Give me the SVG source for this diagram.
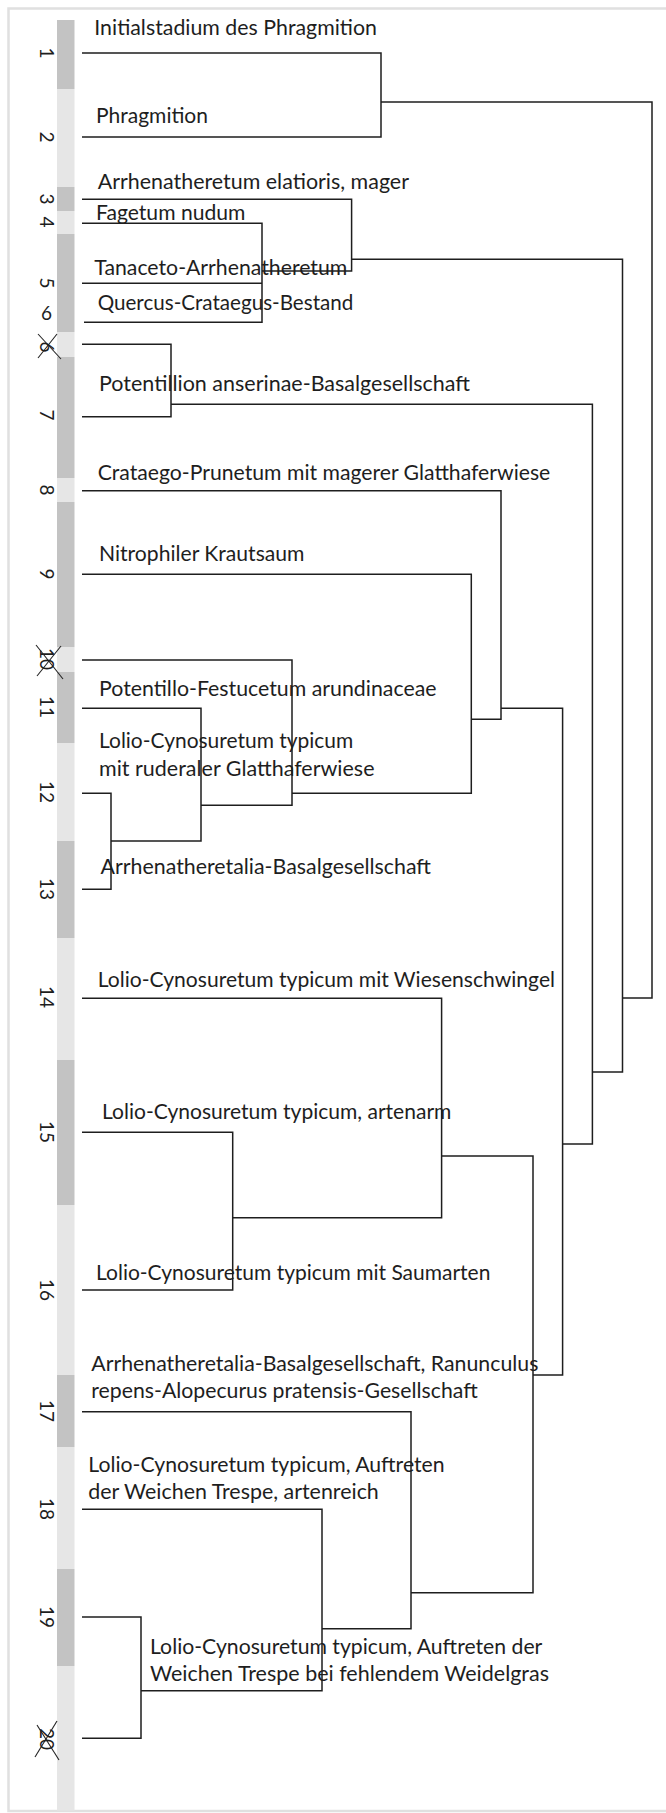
<svg xmlns="http://www.w3.org/2000/svg" width="666" height="1813" viewBox="0 0 666 1813">
<style>
.frame{fill:#ffffff;stroke:#e0e0e0;stroke-width:2.5}
.dk{fill:#c3c3c3}
.lt{fill:#e6e6e6}
.ln{fill:none;stroke:#1e1e1e;stroke-width:1.5}
.lbl{font-family:Lato,"Open Sans","Liberation Sans",sans-serif;font-size:20.5px;fill:#1e1e1e}
.num{font-family:Lato,"Open Sans","Liberation Sans",sans-serif;font-size:19px;fill:#1e1e1e;text-anchor:middle}
.x{stroke:#222;stroke-width:1.1}
</style>
<rect x="0" y="0" width="666" height="1813" fill="#ffffff"/>
<rect class="frame" x="8.5" y="8.5" width="680" height="1802.5"/>
<g id="bar">
<rect class="dk" x="57" y="20" width="17.5" height="69"/>
<rect class="lt" x="57" y="89" width="17.5" height="98"/>
<rect class="dk" x="57" y="187" width="17.5" height="24"/>
<rect class="lt" x="57" y="211" width="17.5" height="23"/>
<rect class="dk" x="57" y="234" width="17.5" height="98"/>
<rect class="lt" x="57" y="332" width="17.5" height="25"/>
<rect class="dk" x="57" y="357" width="17.5" height="121"/>
<rect class="lt" x="57" y="478" width="17.5" height="24"/>
<rect class="dk" x="57" y="502" width="17.5" height="145"/>
<rect class="lt" x="57" y="647" width="17.5" height="25"/>
<rect class="dk" x="57" y="672" width="17.5" height="71"/>
<rect class="lt" x="57" y="743" width="17.5" height="98"/>
<rect class="dk" x="57" y="841" width="17.5" height="97"/>
<rect class="lt" x="57" y="938" width="17.5" height="122"/>
<rect class="dk" x="57" y="1060" width="17.5" height="145"/>
<rect class="lt" x="57" y="1205" width="17.5" height="170"/>
<rect class="dk" x="57" y="1375" width="17.5" height="72"/>
<rect class="lt" x="57" y="1447" width="17.5" height="122"/>
<rect class="dk" x="57" y="1569" width="17.5" height="97"/>
<rect class="lt" x="57" y="1666" width="17.5" height="144.5"/>
</g>
<g id="numbers">
<text class="num" x="40" y="53" transform="rotate(90 40 53)">1</text>
<text class="num" x="40" y="137" transform="rotate(90 40 137)">2</text>
<text class="num" x="40" y="199" transform="rotate(90 40 199)">3</text>
<text class="num" x="40" y="222" transform="rotate(90 40 222)">4</text>
<text class="num" x="40" y="283" transform="rotate(90 40 283)">5</text>
<text class="num" x="46.5" y="320">6</text>
<text class="num" x="40" y="347" transform="rotate(90 40 347)">6</text>
<text class="num" x="40" y="415" transform="rotate(90 40 415)">7</text>
<text class="num" x="40" y="490" transform="rotate(90 40 490)">8</text>
<text class="num" x="40" y="574" transform="rotate(90 40 574)">9</text>
<text class="num" x="40" y="659" transform="rotate(90 40 659)">10</text>
<text class="num" x="40" y="707" transform="rotate(90 40 707)">11</text>
<text class="num" x="40" y="792" transform="rotate(90 40 792)">12</text>
<text class="num" x="40" y="889" transform="rotate(90 40 889)">13</text>
<text class="num" x="40" y="997" transform="rotate(90 40 997)">14</text>
<text class="num" x="40" y="1132" transform="rotate(90 40 1132)">15</text>
<text class="num" x="40" y="1290" transform="rotate(90 40 1290)">16</text>
<text class="num" x="40" y="1411" transform="rotate(90 40 1411)">17</text>
<text class="num" x="40" y="1509" transform="rotate(90 40 1509)">18</text>
<text class="num" x="40" y="1617" transform="rotate(90 40 1617)">19</text>
<text class="num" x="40" y="1739" transform="rotate(90 40 1739)">20</text>
</g>
<g id="crosses">
<line class="x" x1="38" y1="334" x2="61" y2="359"/>
<line class="x" x1="57" y1="334" x2="38" y2="358"/>
<line class="x" x1="36" y1="645" x2="63" y2="679"/>
<line class="x" x1="61" y1="646" x2="37" y2="676"/>
<line class="x" x1="37" y1="1725" x2="59" y2="1760"/>
<line class="x" x1="57" y1="1721" x2="35" y2="1757"/>
</g>
<g id="connectors">
<path class="ln" d="M82 53 H381 V137 H82"/>
<path class="ln" d="M381 102 H652 V998 H622.5"/>
<path class="ln" d="M82 199.3 H351.6 V271 H262"/>
<path class="ln" d="M82 223.3 H262 V322.3 H84"/>
<path class="ln" d="M82 283.3 H262"/>
<path class="ln" d="M351.6 259.3 H622.5 V1072 H592.4"/>
<path class="ln" d="M82 344.3 H171 V416.7 H82"/>
<path class="ln" d="M171 404.3 H592.4 V1144 H562.6"/>
<path class="ln" d="M82 490.7 H501 V719.3 H471.3"/>
<path class="ln" d="M501 708.3 H562.6 V1375 H533"/>
<path class="ln" d="M82 574.3 H471.3 V793.3 H292"/>
<path class="ln" d="M82 660 H292 V805.3 H201"/>
<path class="ln" d="M82 708.3 H201 V841 H111"/>
<path class="ln" d="M82 793.3 H111 V889.3 H82"/>
<path class="ln" d="M82 998.3 H441.6 V1217.7 H232.7"/>
<path class="ln" d="M82 1132.3 H232.7 V1290 H82"/>
<path class="ln" d="M441.6 1156 H533 V1592.7 H411"/>
<path class="ln" d="M82 1411.7 H411 V1628.7 H322"/>
<path class="ln" d="M82 1509.3 H322 V1690.7 H141"/>
<path class="ln" d="M82 1617 H141 V1738.3 H82"/>
</g>
<g id="n1"><text class="lbl" x="94.3" y="35" textLength="282.7" lengthAdjust="spacingAndGlyphs">Initialstadium des Phragmition</text></g>
<g id="n2"><text class="lbl" x="96" y="122.5" textLength="112" lengthAdjust="spacingAndGlyphs">Phragmition</text></g>
<g id="n3"><text class="lbl" x="97.7" y="189" textLength="311.3" lengthAdjust="spacingAndGlyphs">Arrhenatheretum elatioris, mager</text></g>
<g id="n4"><text class="lbl" x="96" y="220" textLength="149.4" lengthAdjust="spacingAndGlyphs">Fagetum nudum</text></g>
<g id="n5"><text class="lbl" x="94.3" y="275" textLength="253" lengthAdjust="spacingAndGlyphs">Tanaceto-Arrhenatheretum</text></g>
<g id="n6"><text class="lbl" x="97.7" y="310" textLength="255.6" lengthAdjust="spacingAndGlyphs">Quercus-Crataegus-Bestand</text></g>
<g id="n7"><text class="lbl" x="99" y="390.7" textLength="371" lengthAdjust="spacingAndGlyphs">Potentillion anserinae-Basalgesellschaft</text></g>
<g id="n8"><text class="lbl" x="97.7" y="480" textLength="452.6" lengthAdjust="spacingAndGlyphs">Crataego-Prunetum mit magerer Glatthaferwiese</text></g>
<g id="n9"><text class="lbl" x="99" y="561" textLength="205.5" lengthAdjust="spacingAndGlyphs">Nitrophiler Krautsaum</text></g>
<g id="n10"><text class="lbl" x="99" y="696" textLength="337.5" lengthAdjust="spacingAndGlyphs">Potentillo-Festucetum arundinaceae</text></g>
<g id="n11">
<text class="lbl" x="99" y="748.3" textLength="254.3" lengthAdjust="spacingAndGlyphs">Lolio-Cynosuretum typicum</text>
<text class="lbl" x="99" y="775.7" textLength="275.5" lengthAdjust="spacingAndGlyphs">mit ruderaler Glatthaferwiese</text>
</g>
<g id="n12"><text class="lbl" x="100.6" y="874.3" textLength="330.4" lengthAdjust="spacingAndGlyphs">Arrhenatheretalia-Basalgesellschaft</text></g>
<g id="n13"><text class="lbl" x="97.7" y="986.7" textLength="457.3" lengthAdjust="spacingAndGlyphs">Lolio-Cynosuretum typicum mit Wiesenschwingel</text></g>
<g id="n14"><text class="lbl" x="102" y="1119" textLength="349.4" lengthAdjust="spacingAndGlyphs">Lolio-Cynosuretum typicum, artenarm</text></g>
<g id="n15"><text class="lbl" x="96" y="1280" textLength="394.4" lengthAdjust="spacingAndGlyphs">Lolio-Cynosuretum typicum mit Saumarten</text></g>
<g id="n16">
<text class="lbl" x="91.3" y="1370.5" textLength="447.1" lengthAdjust="spacingAndGlyphs">Arrhenatheretalia-Basalgesellschaft, Ranunculus</text>
<text class="lbl" x="91.3" y="1398.3" textLength="386.4" lengthAdjust="spacingAndGlyphs">repens-Alopecurus pratensis-Gesellschaft</text>
</g>
<g id="n17">
<text class="lbl" x="88.3" y="1472.3" textLength="356.3" lengthAdjust="spacingAndGlyphs">Lolio-Cynosuretum typicum, Auftreten</text>
<text class="lbl" x="88.3" y="1499" textLength="290.5" lengthAdjust="spacingAndGlyphs">der Weichen Trespe, artenreich</text>
</g>
<g id="n18">
<text class="lbl" x="150" y="1654" textLength="392.3" lengthAdjust="spacingAndGlyphs">Lolio-Cynosuretum typicum, Auftreten der</text>
<text class="lbl" x="150" y="1680.7" textLength="399" lengthAdjust="spacingAndGlyphs">Weichen Trespe bei fehlendem Weidelgras</text>
</g>
</svg>
